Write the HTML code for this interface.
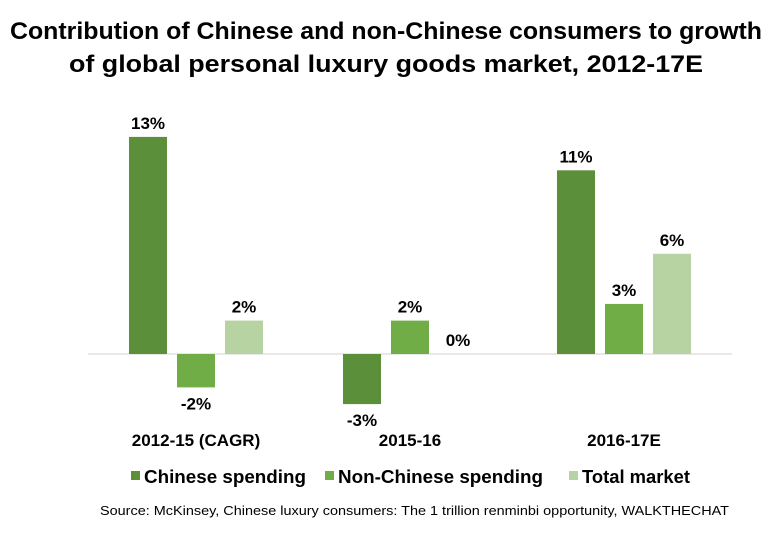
<!DOCTYPE html>
<html><head><meta charset="utf-8"><style>
body{margin:0;background:#fff;}
svg{display:block;font-family:"Liberation Sans",Arial,sans-serif;}
</style></head><body>
<svg id="chart" width="773" height="536" viewBox="0 0 773 536">
<text x="386" y="39" text-anchor="middle" font-size="24" font-weight="bold" fill="#000" textLength="752" lengthAdjust="spacingAndGlyphs">Contribution of Chinese and non-Chinese consumers to growth</text>
<text x="386" y="72" text-anchor="middle" font-size="24" font-weight="bold" fill="#000" textLength="634" lengthAdjust="spacingAndGlyphs">of global personal luxury goods market, 2012-17E</text>
<line x1="88" y1="354" x2="732" y2="354" stroke="#d0d0d0" stroke-width="1"/>
<g id="bars"></g>
<text x="100" y="515" font-size="13" fill="#000" textLength="629" lengthAdjust="spacingAndGlyphs">Source: McKinsey, Chinese luxury consumers: The 1 trillion renminbi opportunity, WALKTHECHAT</text>
</svg>
<script>
const categories = ["2012-15 (CAGR)", "2015-16", "2016-17E"];
const seriesNames = ["Chinese spending", "Non-Chinese spending", "Total market"];
const chineseValues = [13, -3, 11];
const nonChineseValues = [-2, 2, 3];
const totalValues = [2, 0, 6];
const valueLabels = [["13%","-3%","11%"],["-2%","2%","3%"],["2%","0%","6%"]];

const colors = ["#5b8f3a", "#70ad47", "#b6d3a1"];
const series = [chineseValues, nonChineseValues, totalValues];
const ns = "http://www.w3.org/2000/svg";
const g = document.getElementById("bars");
const zeroY = 354, pxPer = 16.7;
function yScale(v){ return zeroY - v * pxPer; }
function groupCenter(i){ return 196 + i * 214; }
const barW = 38, step = 48;
function mk(tag, attrs){ const e = document.createElementNS(ns, tag); for (const k in attrs) e.setAttribute(k, attrs[k]); return e; }

categories.forEach((c, i) => {
  series.forEach((vals, s) => {
    const v = vals[i];
    const x = groupCenter(i) + (s - 1) * step - barW / 2;
    const y0 = yScale(Math.max(v, 0)), y1 = yScale(Math.min(v, 0));
    const r = mk("rect", {x: x, y: y0, width: barW, height: Math.max(y1 - y0, 0), fill: colors[s]});
    
    
    g.appendChild(r);
    const ly = v >= 0 ? y0 - 8 : y1 + 22;
    const t = mk("text", {x: x + barW / 2, y: ly, "text-anchor": "middle", "font-size": 17, "font-weight": "bold", fill: "#000"});
    t.textContent = valueLabels[s][i];
    
    
    g.appendChild(t);
  });
  const ct = mk("text", {x: groupCenter(i), y: 446, "text-anchor": "middle", "font-size": 17, "font-weight": "bold", fill: "#000"});
  ct.textContent = c;
  
  
  g.appendChild(ct);
});

const legendX = [131, 325, 569];
const legendTextW = [162, 205, 108];
seriesNames.forEach((n, s) => {
  const sq = mk("rect", {x: legendX[s], y: 471, width: 9, height: 9, fill: colors[s]});
  
  
  g.appendChild(sq);
  const t = mk("text", {x: legendX[s] + 13, y: 483, "font-size": 18, "font-weight": "bold", fill: "#000", textLength: legendTextW[s], lengthAdjust: "spacingAndGlyphs"});
  t.textContent = n;
  
  
  g.appendChild(t);
});
</script>
</body></html>
